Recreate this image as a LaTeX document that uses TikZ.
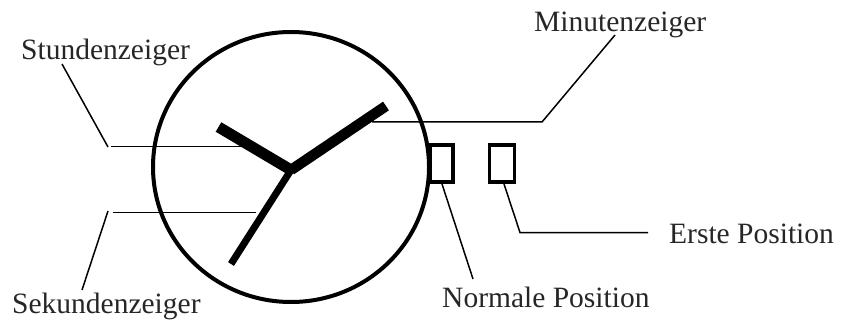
\documentclass[tikz,border=0pt]{standalone}
\usepackage{fontspec}
\setmainfont{Liberation Serif}
\usetikzlibrary{positioning,shapes.geometric}

\begin{document}
\begin{tikzpicture}[x=1pt,y=-1pt,
  label/.style={inner sep=0pt, anchor=base west, font=\fontsize{29.5}{34}\selectfont, text=black!85},
  leader/.style={line width=1.5pt},
  crown/.style={draw, line width=3.6pt, minimum width=23pt, minimum height=37pt, inner sep=0pt}]
\useasboundingbox (0,0) rectangle (842,320);
% watch face and crown positions
\node[draw, ellipse, line width=4pt, inner sep=0pt, minimum width=276pt, minimum height=270pt] (face) at (291,167) {};
\node[crown] (normal) at (441.5,163.5) {};
\node[crown, minimum width=25pt] (first) at (502,163.5) {};
% hands
\coordinate (hub) at (291,170);
\coordinate (hourtip) at (218.5,127);
\coordinate (minutetip) at (386,106);
\coordinate (secondtip) at (231,264);
\draw[line width=11pt] (hourtip) -- (hub);
\draw[line width=10.5pt] (minutetip) -- (hub);
\draw[line width=7pt] (secondtip) -- (hub);
% labels
\node[label] (stunden) at (21,60) {Stundenzeiger};
\node[label] (sekunden) at (12,313) {Sekundenzeiger};
\node[label] (minuten) at (534,32) {Minutenzeiger};
\node[label] (erste) at (669,243) {Erste Position};
\node[label] (normale) at (442,307) {Normale Position};
% leader lines
\coordinate (stundenA) at (62,64);
\coordinate (stundenB) at (108,147);
\coordinate (stundenC) at (111,146.5);
\coordinate (stundenD) at (245,146.5);
\coordinate (sekundenA) at (82,290);
\coordinate (sekundenB) at (108,211);
\coordinate (sekundenC) at (113,212.5);
\coordinate (sekundenD) at (256,212.5);
\coordinate (minutenA) at (615,35);
\coordinate (minutenB) at (542,122);
\coordinate (minutenC) at (372,122);
\coordinate (normaleA) at (442,184);
\coordinate (normaleB) at (473,279);
\coordinate (ersteA) at (504,184);
\coordinate (ersteB) at (520,232.5);
\coordinate (ersteC) at (648,232.5);
\draw[leader] (stundenA) -- (stundenB);
\draw[leader] (stundenC) -- (stundenD);
\draw[leader] (sekundenA) -- (sekundenB);
\draw[leader] (sekundenC) -- (sekundenD);
\draw[leader] (minutenA) -- (minutenB) -- (minutenC);
\draw[leader] (normaleA) -- (normaleB);
\draw[leader] (ersteA) -- (ersteB) -- (ersteC);
\end{tikzpicture}
\end{document}
